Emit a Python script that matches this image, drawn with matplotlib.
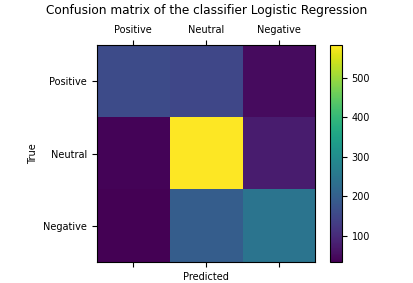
import matplotlib
matplotlib.use("Agg")
import matplotlib.pyplot as plt
import numpy as np

labels = ["Positive", "Neutral", "Negative"]
row_positive = [160, 150, 50]
row_neutral = [40, 583, 75]
row_negative = [34, 195, 245]

cm = np.array([row_positive, row_neutral, row_negative])

fig = plt.figure(figsize=(4.14, 2.83), dpi=100)
ax = fig.add_axes([0.234, 0.074, 0.527, 0.767])
im = ax.matshow(cm, cmap="viridis", aspect="auto")
cax = fig.add_axes([0.797, 0.074, 0.029, 0.767])
fig.colorbar(im, cax=cax)
ax.set_xticks(range(3))
ax.set_yticks(range(3))
ax.set_xticklabels(labels, fontsize=7)
ax.set_yticklabels(labels, fontsize=7)
ax.set_xlabel("Predicted", fontsize=7)
ax.set_ylabel("True", fontsize=7)
cax.tick_params(labelsize=7)
fig.suptitle("Confusion matrix of the classifier Logistic Regression", fontsize=8.7, y=0.985)
fig.savefig("out.png", dpi=100)
